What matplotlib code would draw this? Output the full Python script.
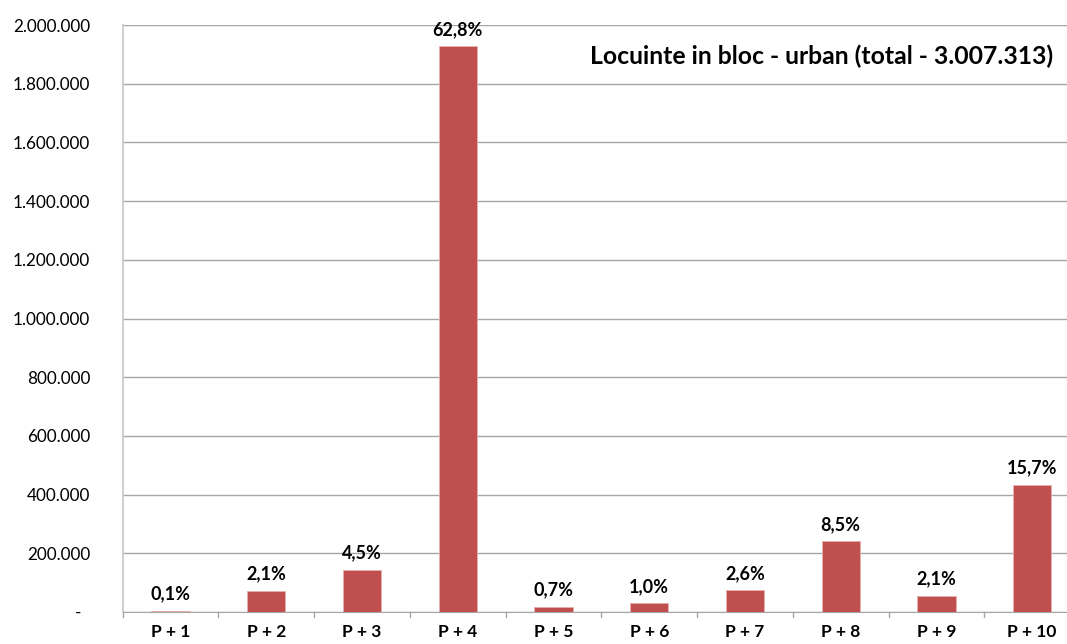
import matplotlib
matplotlib.use("Agg")
import matplotlib.pyplot as plt
from matplotlib.ticker import FuncFormatter, FixedLocator
import numpy as np

categories = ["P + 1", "P + 2", "P + 3", "P + 4", "P + 5", "P + 6", "P + 7", "P + 8", "P + 9", "P + 10"]
values = [3500, 72600, 143000, 1928000, 18000, 29600, 74000, 241000, 55500, 432700]
pct_labels = ["0,1%", "2,1%", "4,5%", "62,8%", "0,7%", "1,0%", "2,6%", "8,5%", "2,1%", "15,7%"]
title = "Locuinte in bloc - urban (total - 3.007.313)"

plt.rcParams['font.family'] = ['Lato', 'DejaVu Sans']

W, H = 1067, 644
fig = plt.figure(figsize=(W / 100, H / 100), dpi=100)
left_px, right_px, top_px, bot_px = 122.7, 1080.0, 25.0, 612.0
ax = fig.add_axes([left_px / W, (H - bot_px) / H, (right_px - left_px) / W, (bot_px - top_px) / H])

x = np.arange(len(categories))
ax.bar(x, values, width=0.40, color="#C0504D", edgecolor="#E6B0AE", linewidth=0.6, zorder=3)

ax.set_xlim(-0.5, len(categories) - 0.5)
ax.set_ylim(0, 2000000)

ax.yaxis.set_major_locator(FixedLocator(np.arange(0, 2000001, 200000)))
def fmt(v, pos):
    if v == 0:
        return "-  "
    return f"{int(v):,}".replace(",", ".")
ax.yaxis.set_major_formatter(FuncFormatter(fmt))
ax.tick_params(axis='y', length=0, pad=23.5, labelsize=12.3, colors="#000000")
ax.grid(axis='y', color="#A6A6A6", linewidth=1, zorder=0)

ax.set_xticks(x)
ax.set_xticklabels(categories, fontweight='bold', fontsize=12.5)
ax.tick_params(axis='x', length=0, pad=8.5)
for b in np.arange(-0.5, len(categories), 1.0):
    ax.plot([b, b], [0, -0.009], transform=ax.get_xaxis_transform(), color="#A6A6A6", lw=1, clip_on=False)

for s in ['top', 'right']:
    ax.spines[s].set_visible(False)
ax.spines['left'].set_color("#D0D0D0")
ax.spines['left'].set_linewidth(1.5)
ax.spines['bottom'].set_color("#A6A6A6")
ax.axhline(2000000, color="#808080", lw=1.2, zorder=1)

for xi, v, lab in zip(x, values, pct_labels):
    ax.annotate(lab, (xi, v), xytext=(0, 6), textcoords='offset points',
                ha='center', va='bottom', fontweight='bold', fontsize=13)

fig.text(1053 / W, 1 - 56 / H, title, ha='right', va='center',
         fontweight='bold', fontsize=17.8)

fig.savefig("out.png", dpi=100)
